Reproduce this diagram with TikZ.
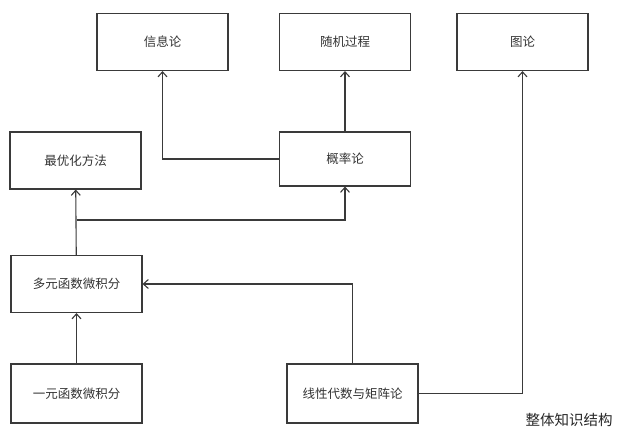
\documentclass[tikz,border=0pt]{standalone}
\usepackage{fontspec}
\newfontfamily\cjk{Noto Sans CJK SC}
\usepackage{tikz}
\usetikzlibrary{arrows.meta, positioning}
\definecolor{linegray}{HTML}{3A3A3A}

\begin{document}
\begin{tikzpicture}[x=1pt, y=-1pt, >={Straight Barb[length=5pt, width=9pt]},
    box/.style={draw=linegray, line width=1.1pt, minimum width=131pt,
      minimum height=57pt, inner sep=0pt, font=\cjk\fontsize{12.5}{14}\selectfont,
      text=black!80},
    link/.style={draw=linegray, line width=1.1pt}]
  \useasboundingbox (0,0) rectangle (640,442);
  % top row
  \node[box] (info)  at (162.5,42) {信息论};
  \node[box] (rand)  at (345,42)   {随机过程};
  \node[box] (graph) at (522.5,42) {图论};
  % middle row
  \node[box] (opt)  at (75.5,160.5) {最优化方法};
  \node[box, minimum height=54pt] (prob) at (345,159) {概率论};
  \node[box] (multi) at (76.5,284) {多元函数微积分};
  % bottom row
  \node[box, minimum height=59pt] (single) at (76.5,393.5) {一元函数微积分};
  \node[box, minimum height=59pt] (linalg) at (352.5,393.5) {线性代数与矩阵论};
  \node[font=\cjk\fontsize{14.5}{16}\selectfont, text=black!85] (title) at (569,420) {整体知识结构};
  % connectors
  \coordinate (split) at (multi.north |- 0,220);
  \draw[link, ->] (single) -- (multi);
  \draw[link, ->] (multi) -- (opt);
  \draw[link, ->] (split) -| (prob);
  \draw[link, ->] (prob) -- (rand);
  \draw[link, ->] (prob.west) -| (info);
  \draw[link, ->] (linalg.north) |- (multi.east);
  \draw[link, ->] (linalg.east) -| (graph);
\end{tikzpicture}
\end{document}
